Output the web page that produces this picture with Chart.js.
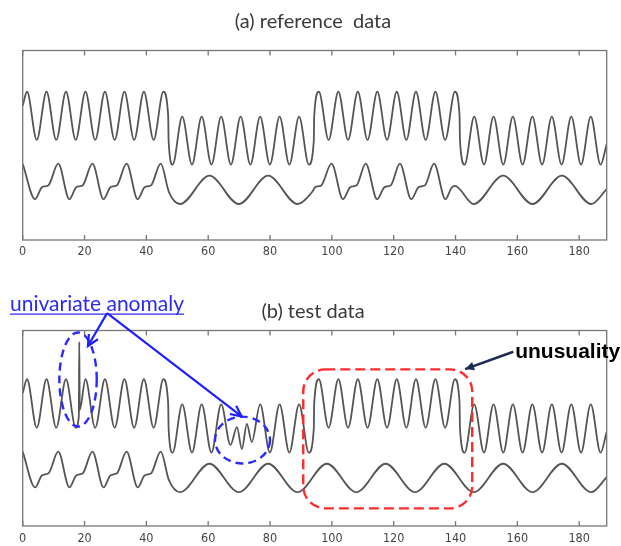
<!DOCTYPE html>
<html>
<head>
<meta charset="utf-8">
<script src="https://cdn.jsdelivr.net/npm/chart.js@4.4.1/dist/chart.umd.min.js"></script>
<style>
html, body { margin: 0; padding: 0; background: #fff; overflow: hidden; width: 621px; height: 546px; }
canvas { position: absolute; left: 0; }
#refChart { top: 0; }
#testChart { top: 270px; }
</style>
</head>
<body>
<canvas id="refChart" width="621" height="270"></canvas>
<canvas id="testChart" width="621" height="290"></canvas>
<script>
// titles and x tick labels
const panelTitles = ['(a) reference  data', '(b) test data'];
const xTickValues = [0, 20, 40, 60, 80, 100, 120, 140, 160, 180];

// (a) reference data - upper signal (time / value)
const refUpperT = [0, 1.4, 4.55, 7.7, 10.85, 14.0, 17.15, 20.3, 23.45, 26.6, 29.75, 32.9, 36.05, 39.2, 42.35, 45.5,
  47.05, 47.2,
  48.5, 51.6, 54.75, 57.9, 61.05, 64.2, 67.35, 70.5, 73.65, 76.8, 79.95, 83.1, 86.25, 89.4, 92.55,
  94.15, 94.3,
  95.8, 98.95, 102.1, 105.25, 108.4, 111.55, 114.7, 117.85, 121.0, 124.1, 127.2, 130.35, 133.5, 136.65, 139.8,
  141.3, 141.45,
  142.95, 146.05, 149.2, 152.3, 155.45, 158.55, 161.7, 164.85, 168.0, 171.15, 174.3, 177.45, 180.6, 183.75, 186.9, 188.9];
const refUpperY = [5.6, 6.18, 4.17, 6.18, 4.17, 6.18, 4.17, 6.18, 4.17, 6.18, 4.17, 6.18, 4.17, 6.18, 4.17, 6.18,
  5.2, 4.12,
  3.14, 5.14, 3.14, 5.14, 3.14, 5.14, 3.14, 5.14, 3.14, 5.14, 3.14, 5.14, 3.14, 5.14, 3.14,
  4.12, 5.2,
  6.18, 4.17, 6.18, 4.17, 6.18, 4.17, 6.18, 4.17, 6.18, 4.17, 6.18, 4.17, 6.18, 4.17, 6.18,
  5.2, 4.12,
  3.14, 5.14, 3.14, 5.14, 3.14, 5.14, 3.14, 5.14, 3.14, 5.14, 3.14, 5.14, 3.14, 5.14, 3.14, 4.0];

// (a) reference data - lower signal
const refLowerT = [0, 4.0, 6.1, 7.3, 8.4, 11.5, 15.1, 17.2, 18.4, 19.5, 22.55, 26.15, 28.25, 29.4, 30.55, 33.6, 37.2, 39.3, 40.5, 41.6, 44.65,
  47.3, 50.9, 60.4, 69.9, 79.4, 88.9, 93.6, 94.6, 95.7, 96.7,
  99.9, 103.6, 105.8, 107.0, 108.1, 110.95, 114.65, 116.85, 118.0, 119.15, 122.0, 125.7, 127.9, 129.0, 130.2, 133.05, 136.75, 138.7, 139.8,
  145.9, 155.4, 164.9, 174.4, 183.9, 188.9];
const refLowerY = [3.18, 1.70, 2.18, 2.24, 2.29, 3.18, 1.70, 2.18, 2.24, 2.29, 3.18, 1.70, 2.18, 2.24, 2.29, 3.18, 1.70, 2.18, 2.24, 2.29, 3.18,
  2.0, 1.5, 2.68, 1.5, 2.68, 1.5, 2.0, 2.2, 2.24, 2.29,
  3.18, 1.70, 2.18, 2.24, 2.29, 3.18, 1.70, 2.18, 2.24, 2.29, 3.18, 1.70, 2.18, 2.24, 2.29, 3.18, 1.70, 2.18, 2.26,
  1.5, 2.68, 1.5, 2.68, 1.5, 2.12];

// (b) test data - upper signal (spike near 18, fast wiggle near 70)
const testUpperT = [0, 1.4, 4.55, 7.7, 10.85, 14.0, 17.15, 18.15, 18.3, 18.45, 20.3, 23.45, 26.6, 29.75, 32.9, 36.05, 39.2, 42.35, 45.5,
  47.05, 47.2,
  48.5, 51.6, 54.75, 57.9, 61.05, 64.2, 67.2, 69.3, 70.9, 72.5, 74.1, 76.8, 79.95, 83.1, 86.25, 89.4, 92.55,
  94.15, 94.3,
  95.8, 98.95, 102.1, 105.25, 108.4, 111.55, 114.7, 117.85, 121.0, 124.1, 127.2, 130.35, 133.5, 136.65, 139.8,
  141.3, 141.45,
  142.95, 146.05, 149.2, 152.3, 155.45, 158.55, 161.7, 164.85, 168.0, 171.15, 174.3, 177.45, 180.6, 183.75, 186.9, 188.9];
const testUpperY = [5.6, 6.18, 4.17, 6.18, 4.17, 6.18, 4.17, 4.63, 7.73, 4.91, 6.18, 4.17, 6.18, 4.17, 6.18, 4.17, 6.18, 4.17, 6.18,
  5.2, 4.12,
  3.14, 5.14, 3.14, 5.14, 3.14, 5.14, 3.46, 4.20, 3.29, 4.33, 3.58, 5.14, 3.14, 5.14, 3.14, 5.14, 3.14,
  4.12, 5.2,
  6.18, 4.17, 6.18, 4.17, 6.18, 4.17, 6.18, 4.17, 6.18, 4.17, 6.18, 4.17, 6.18, 4.17, 6.18,
  5.2, 4.12,
  3.14, 5.14, 3.14, 5.14, 3.14, 5.14, 3.14, 5.14, 3.14, 5.14, 3.14, 5.14, 3.14, 5.14, 3.14, 4.0];

// (b) test data - lower signal (slow wave keeps going after 47)
const testLowerT = [0, 4.0, 6.1, 7.3, 8.4, 11.5, 15.1, 17.2, 18.4, 19.5, 22.55, 26.15, 28.25, 29.4, 30.55, 33.6, 37.2, 39.3, 40.5, 41.6, 44.65,
  47.3, 50.9, 60.4, 69.9, 79.4, 88.9, 98.4, 107.9, 117.4, 126.9, 136.4, 145.9, 155.4, 164.9, 174.4, 183.9, 188.9];
const testLowerY = [3.18, 1.70, 2.18, 2.24, 2.29, 3.18, 1.70, 2.18, 2.24, 2.29, 3.18, 1.70, 2.18, 2.24, 2.29, 3.18, 1.70, 2.18, 2.24, 2.29, 3.18,
  2.0, 1.5, 2.68, 1.5, 2.68, 1.5, 2.68, 1.5, 2.68, 1.5, 2.68, 1.5, 2.68, 1.5, 2.68, 1.5, 2.12];

const tickFont = "'Liberation Sans Narrow', 'DejaVu Sans Condensed', 'Roboto', sans-serif";
const lineColor = '#555555';
const frameColor = '#777777';

function toPoints(t, y) {
  return t.map((x, i) => ({ x: x, y: y[i] }));
}

function series(t, y) {
  return {
    data: toPoints(t, y),
    borderColor: lineColor,
    borderWidth: 1.8,
    pointRadius: 0,
    fill: false,
    cubicInterpolationMode: 'monotone'
  };
}

// matlab style box with inward ticks + panel title
function framePlugin(title, titleOffset) {
  return {
    id: 'frame',
    afterDraw(chart) {
      const { ctx, chartArea: a, scales: { x } } = chart;
      ctx.save();
      ctx.strokeStyle = frameColor;
      ctx.lineWidth = 1.3;
      ctx.strokeRect(a.left, a.top, a.right - a.left, a.bottom - a.top);
      x.ticks.forEach(t => {
        const px = x.getPixelForValue(t.value);
        ctx.beginPath();
        ctx.moveTo(px, a.bottom);
        ctx.lineTo(px, a.bottom - 5);
        ctx.moveTo(px, a.top);
        ctx.lineTo(px, a.top + 5);
        ctx.stroke();
      });
      ctx.fillStyle = '#3a3a3a';
      ctx.font = "20px Lato, 'Open Sans', sans-serif";
      ctx.textAlign = 'center';
      ctx.textBaseline = 'middle';
      ctx.fillText(title, 313, a.top + titleOffset);
      ctx.restore();
    }
  };
}

function arrowLine(ctx, x1, y1, x2, y2, head, filled) {
  const ang = Math.atan2(y2 - y1, x2 - x1);
  ctx.beginPath();
  ctx.moveTo(x1, y1);
  ctx.lineTo(x2, y2);
  ctx.stroke();
  const hx1 = x2 - head * Math.cos(ang - 0.45), hy1 = y2 - head * Math.sin(ang - 0.45);
  const hx2 = x2 - head * Math.cos(ang + 0.45), hy2 = y2 - head * Math.sin(ang + 0.45);
  ctx.beginPath();
  if (filled) {
    ctx.moveTo(x2, y2); ctx.lineTo(hx1, hy1); ctx.lineTo(hx2, hy2); ctx.closePath(); ctx.fill();
  } else {
    ctx.moveTo(hx1, hy1); ctx.lineTo(x2, y2); ctx.lineTo(hx2, hy2); ctx.stroke();
  }
}

// callouts on the test panel, placed in data units
const anomalyRings = [
  { x: 17.9, y: 6.17, rx: 6.05, ry: 1.95 },
  { x: 71.1, y: 3.66, rx: 8.9, ry: 0.97 }
];
const unusualBox = { x0: 90.75, x1: 145.4, y0: 6.59, y1: 0.83 };

const notesPlugin = {
  id: 'notes',
  afterDraw(chart) {
    const { ctx, scales: { x, y } } = chart;
    const X = v => x.getPixelForValue(v);
    const Y = v => y.getPixelForValue(v);
    ctx.save();

    // blue dashed ellipses
    ctx.strokeStyle = '#2b2bff';
    ctx.lineWidth = 2.4;
    ctx.setLineDash([8, 5]);
    anomalyRings.forEach(r => {
      ctx.beginPath();
      ctx.ellipse(X(r.x), Y(r.y), Math.abs(X(r.x + r.rx) - X(r.x)), Math.abs(Y(r.y + r.ry) - Y(r.y)), 0, 0, Math.PI * 2);
      ctx.stroke();
    });

    // red dashed rounded box
    ctx.strokeStyle = '#ff2b2b';
    ctx.setLineDash([10, 5]);
    ctx.beginPath();
    ctx.roundRect(X(unusualBox.x0), Y(unusualBox.y0), X(unusualBox.x1) - X(unusualBox.x0), Y(unusualBox.y1) - Y(unusualBox.y0), 22);
    ctx.stroke();
    ctx.setLineDash([]);

    // label + arrows for univariate anomaly
    ctx.fillStyle = '#2a2af0';
    ctx.font = "21px Lato, 'Open Sans', sans-serif";
    ctx.textAlign = 'left';
    ctx.textBaseline = 'alphabetic';
    const lx = X(-4.1), ly = Y(9.02);
    ctx.fillText('univariate anomaly', lx, ly);
    const w = ctx.measureText('univariate anomaly').width;
    ctx.strokeStyle = '#2a2af0';
    ctx.lineWidth = 1.3;
    ctx.beginPath();
    ctx.moveTo(lx, ly + 3.5);
    ctx.lineTo(lx + w, ly + 3.5);
    ctx.stroke();

    ctx.strokeStyle = '#1f1fff';
    ctx.lineWidth = 2.2;
    arrowLine(ctx, X(27.3), Y(8.92), X(21.1), Y(7.56), 12, false);
    arrowLine(ctx, X(27.3), Y(8.92), X(70.8), Y(4.64), 12, false);

    // unusuality label and arrow
    ctx.strokeStyle = '#1e2a55';
    ctx.fillStyle = '#1e2a55';
    ctx.lineWidth = 2.5;
    arrowLine(ctx, X(158.7), Y(7.32), X(143.1), Y(6.6), 10, true);
    ctx.fillStyle = '#000';
    ctx.font = "bold 21px 'Liberation Sans', Arial, sans-serif";
    ctx.textBaseline = 'middle';
    ctx.fillText('unusuality', X(159.3), Y(7.32));
    ctx.restore();
  }
};

function makeChart(id, upper, lower, yMin, yMax, padding, tickPad, plugins) {
  return new Chart(document.getElementById(id).getContext('2d'), {
    type: 'line',
    data: { datasets: [upper, lower] },
    options: {
      responsive: false,
      animation: false,
      events: [],
      layout: { padding: padding },
      plugins: { legend: { display: false }, tooltip: { enabled: false } },
      scales: {
        x: {
          type: 'linear',
          min: 0,
          max: 188.9,
          grid: { display: false, drawTicks: false },
          border: { display: false },
          afterBuildTicks: scale => { scale.ticks = xTickValues.map(v => ({ value: v })); },
          ticks: { color: '#444', padding: tickPad, maxRotation: 0, font: { family: tickFont, size: 12.5 } }
        },
        y: { display: false, min: yMin, max: yMax }
      }
    },
    plugins: plugins
  });
}

makeChart('refChart', series(refUpperT, refUpperY), series(refLowerT, refLowerY), 0, 7.9,
  { left: 22.7, right: 14.3, top: 50.5, bottom: 6.0 }, 4.5, [framePlugin(panelTitles[0], -28.5)]);

makeChart('testChart', series(testUpperT, testUpperY), series(testLowerT, testLowerY), 0.1, 8.2,
  { left: 22.7, right: 14.3, top: 60.5, bottom: 9.0 }, 5, [framePlugin(panelTitles[1], -18.8), notesPlugin]);
</script>
</body>
</html>
